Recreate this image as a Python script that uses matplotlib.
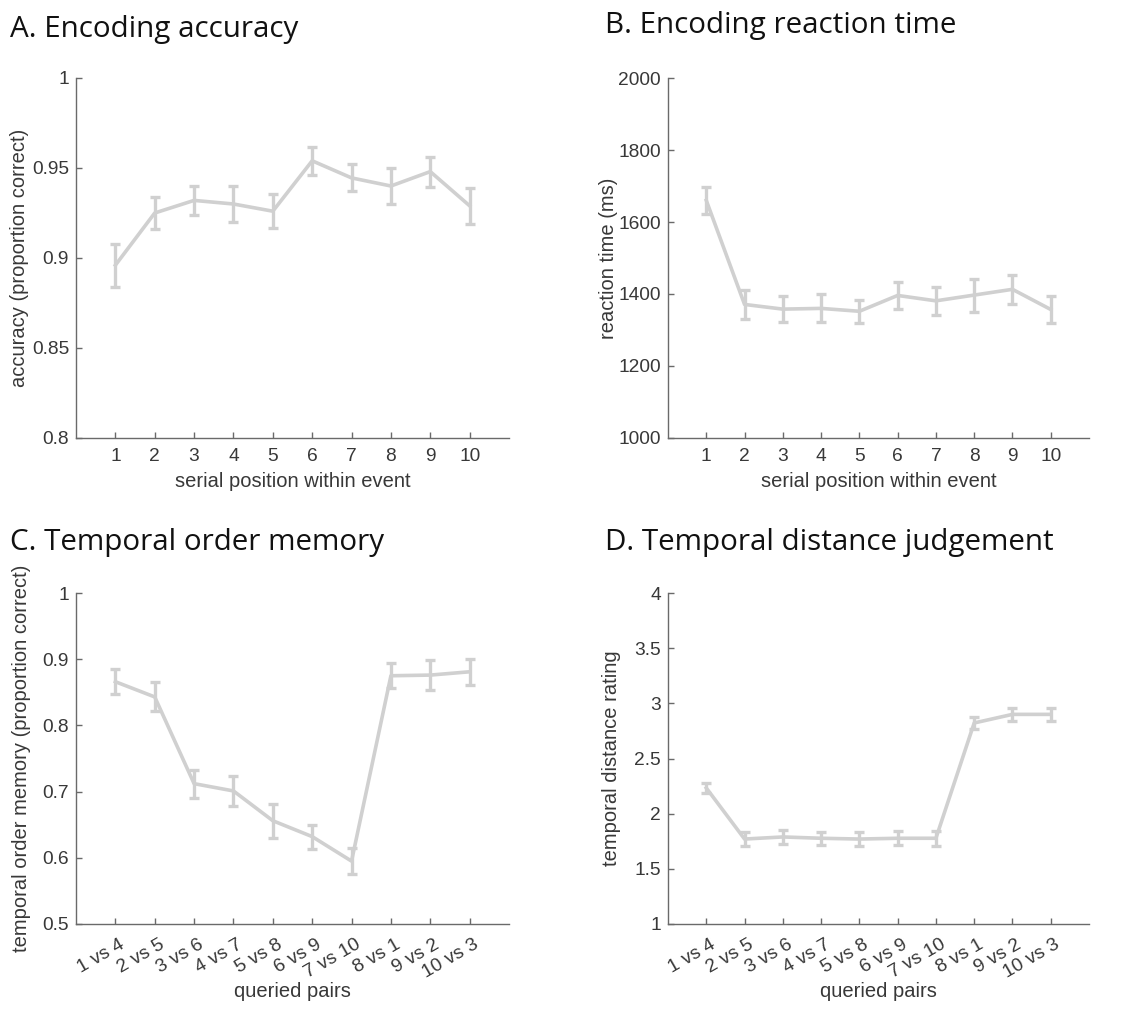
import matplotlib
matplotlib.use("Agg")
import matplotlib.pyplot as plt
import matplotlib.transforms as mtransforms
import numpy as np

# ---- data ----
positions = list(range(1, 11))
position_labels = [str(p) for p in positions]

acc_mean = [0.896, 0.925, 0.932, 0.930, 0.926, 0.954, 0.9445, 0.940, 0.948, 0.929]
acc_sem = [0.012, 0.009, 0.008, 0.010, 0.0095, 0.0078, 0.0075, 0.010, 0.0083, 0.010]

rt_mean = [1660, 1371, 1358, 1360, 1352, 1396, 1381, 1397, 1413, 1357]
rt_sem = [38, 41, 36, 39, 32, 37, 38, 46, 40, 38]

pair_labels = ["1 vs 4", "2 vs 5", "3 vs 6", "4 vs 7", "5 vs 8",
               "6 vs 9", "7 vs 10", "8 vs 1", "9 vs 2", "10 vs 3"]

order_mean = [0.866, 0.843, 0.712, 0.701, 0.656, 0.632, 0.595, 0.875, 0.876, 0.881]
order_sem = [0.019, 0.022, 0.021, 0.022, 0.026, 0.018, 0.020, 0.019, 0.023, 0.020]

dist_mean = [2.233, 1.770, 1.789, 1.777, 1.770, 1.777, 1.777, 2.822, 2.900, 2.900]
dist_sem = [0.045, 0.066, 0.066, 0.060, 0.066, 0.065, 0.068, 0.053, 0.057, 0.056]

# ---- style ----
W, H = 1137, 1009
DPI = 100
LINE_COLOR = "#d0d0d0"
AXIS_COLOR = "#6a6a6a"
TEXT_COLOR = "#383838"
TICK_FONT = "Liberation Sans"
TITLE_FONT = "Open Sans"
TICK_SIZE = 13.8
LABEL_SIZE = 14.5

fig = plt.figure(figsize=(W / DPI, H / DPI), dpi=DPI)
fig.patch.set_facecolor("white")


def px_axes(left, top, right, bottom):
    return fig.add_axes([left / W, 1 - bottom / H, (right - left) / W, (bottom - top) / H])


def style(ax, ylim, yticks, yticklabels, ylabel, xlabel, xticklabels, rotate, ylabel_x):
    ax.set_xlim(0, 11)
    ax.set_ylim(*ylim)
    for s in ("top", "right"):
        ax.spines[s].set_visible(False)
    for s in ("left", "bottom"):
        ax.spines[s].set_color(AXIS_COLOR)
        ax.spines[s].set_linewidth(1.0)
    ax.tick_params(direction="in", length=4, width=1.0, color=AXIS_COLOR,
                   labelcolor=TEXT_COLOR, labelsize=TICK_SIZE)
    ax.set_xticks(positions)
    ax.set_yticks(yticks)
    ax.set_yticklabels(yticklabels, fontfamily=TICK_FONT)
    if rotate:
        ax.set_xticklabels(xticklabels, rotation=30, ha="right", va="center",
                           rotation_mode="anchor", fontfamily=TICK_FONT)
        ax.tick_params(axis="x", pad=14)
        shift = mtransforms.ScaledTranslation(8 / DPI, 0, fig.dpi_scale_trans)
        for lab in ax.get_xticklabels():
            lab.set_transform(lab.get_transform() + shift)
        xpad = 0
    else:
        ax.set_xticklabels(xticklabels, fontfamily=TICK_FONT)
        ax.tick_params(axis="x", pad=7)
        xpad = 5
    ax.tick_params(axis="y", pad=5)
    ax.set_ylabel(ylabel, fontsize=LABEL_SIZE, color=TEXT_COLOR, fontfamily=TICK_FONT)
    ax.yaxis.set_label_coords(ylabel_x, 0.5)
    ax.set_xlabel(xlabel, fontsize=LABEL_SIZE, color=TEXT_COLOR, fontfamily=TICK_FONT,
                  labelpad=xpad)


def draw(ax, mean, sem):
    ax.errorbar(positions, mean, yerr=sem, color=LINE_COLOR, lw=2.6,
                elinewidth=2.4, capsize=3.4, capthick=2.4, zorder=3)


# A. Encoding accuracy
axA = px_axes(76, 78, 509, 438)
draw(axA, acc_mean, acc_sem)
style(axA, (0.8, 1.0), [0.8, 0.85, 0.9, 0.95, 1.0],
      ["0.8", "0.85", "0.9", "0.95", "1"],
      "accuracy (proportion correct)", "serial position within event",
      position_labels, False, -0.108)

# B. Encoding reaction time
axB = px_axes(668, 78, 1089, 438)
draw(axB, rt_mean, rt_sem)
style(axB, (1000, 2000), [1000, 1200, 1400, 1600, 1800, 2000],
      ["1000", "1200", "1400", "1600", "1800", "2000"],
      "reaction time (ms)", "serial position within event",
      position_labels, False, -0.118)

# C. Temporal order memory
axC = px_axes(76, 593, 509, 924)
draw(axC, order_mean, order_sem)
style(axC, (0.5, 1.0), [0.5, 0.6, 0.7, 0.8, 0.9, 1.0],
      ["0.5", "0.6", "0.7", "0.8", "0.9", "1"],
      "temporal order memory (proportion correct)", "queried pairs",
      pair_labels, True, -0.104)

# D. Temporal distance judgement
axD = px_axes(668, 593, 1089, 924)
draw(axD, dist_mean, dist_sem)
style(axD, (1, 4), [1, 1.5, 2, 2.5, 3, 3.5, 4],
      ["1", "1.5", "2", "2.5", "3", "3.5", "4"],
      "temporal distance rating", "queried pairs",
      pair_labels, True, -0.112)

# panel titles
title_kw = dict(fontsize=21.3, fontfamily=TITLE_FONT, color="#111111", va="baseline", ha="left")
fig.text(10 / W, 1 - 37 / H, "A. Encoding accuracy", **title_kw)
fig.text(605 / W, 1 - 33 / H, "B. Encoding reaction time", **title_kw)
fig.text(10 / W, 1 - 550 / H, "C. Temporal order memory", **title_kw)
fig.text(605 / W, 1 - 550 / H, "D. Temporal distance judgement", **title_kw)

fig.savefig("out.png", dpi=DPI, facecolor="white")
